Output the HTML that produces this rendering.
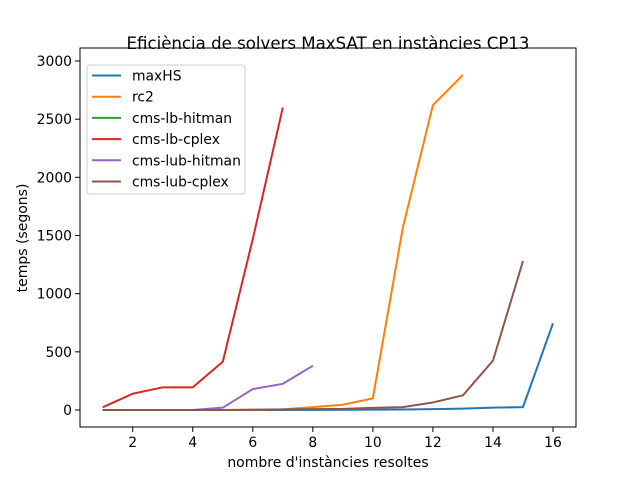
<!DOCTYPE html>
<html><head><meta charset="utf-8"><style>
body{margin:0;background:#fff;}
svg text{font-family:"DejaVu Sans","Liberation Sans",sans-serif;fill:#000;}
</style></head><body>
<svg id="chart" width="640" height="480" xmlns="http://www.w3.org/2000/svg">
<rect x="0" y="0" width="640" height="480" fill="#fff"/>
<text x="328" y="49" font-size="16.6" text-anchor="middle">Eficiència de solvers MaxSAT en instàncies CP13</text>
<g id="ticks"></g>
<g id="series"></g>
<rect x="80" y="48" width="496" height="379" fill="none" stroke="#000" stroke-width="1"/>
<text x="328" y="467" font-size="14" text-anchor="middle">nombre d'instàncies resoltes</text>
<text transform="translate(27,238) rotate(-90)" font-size="14" text-anchor="middle">temps (segons)</text>
<g id="legend"></g>
</svg>
<script>
const xTicks=[2,4,6,8,10,12,14,16];
const yTicks=[0,500,1000,1500,2000,2500,3000];
const seriesNames=["maxHS","rc2","cms-lb-hitman","cms-lb-cplex","cms-lub-hitman","cms-lub-cplex"];
const seriesColors=["#1f77b4","#ff7f0e","#2ca02c","#d62728","#9467bd","#8c564b"];
const maxHS=[0,0,0,0,0,0,0,1,2,3,4,8,12,20,25,745];
const rc2=[0,0,0,0,0,2,5,25,45,100,1570,2620,2880];
const cmsLbHitman=[];
const cmsLbCplex=[23,140,195,195,415,1470,2600];
const cmsLubHitman=[0,0,0,0,20,180,225,380];
const cmsLubCplex=[0,0,0,0,0,2,5,8,10,18,25,65,126,424,1280];
const allSeries=[maxHS,rc2,cmsLbHitman,cmsLbCplex,cmsLubHitman,cmsLubCplex];
const NS="http://www.w3.org/2000/svg";
const xs=v=>102.7+(v-1)*30.02;
const ys=v=>410-v*0.11633;
function mk(t,a,p){const e=document.createElementNS(NS,t);for(const k in a)e.setAttribute(k,a[k]);p.appendChild(e);return e;}
const tg=document.getElementById('ticks');
xTicks.forEach(v=>{
 const l=mk('line',{x1:xs(v),x2:xs(v),y1:427,y2:432,stroke:'#000'},tg);
 
 
 const t=mk('text',{x:xs(v),y:447,'font-size':'13.9','text-anchor':'middle'},tg);t.textContent=v;
 
 
});
yTicks.forEach(v=>{
 const l=mk('line',{x1:75,x2:80,y1:ys(v),y2:ys(v),stroke:'#000'},tg);
 
 
 const t=mk('text',{x:72,y:ys(v)+5,'font-size':'13.9','text-anchor':'end'},tg);t.textContent=v;
 
 
});
const sg=document.getElementById('series');
allSeries.forEach((d,i)=>{
 if(!d.length)return;
 const p=mk('polyline',{points:d.map((v,j)=>xs(j+1)+','+ys(v)).join(' '),fill:'none',stroke:seriesColors[i],'stroke-width':2},sg);
 
 
});
const lg=document.getElementById('legend');
const b=mk('rect',{x:87,y:65,width:158,height:129,rx:3,fill:'#fff','fill-opacity':0.8,stroke:'#ccc'},lg);


seriesNames.forEach((n,i)=>{
 const y=75.5+i*21.2;
 const g=mk('g',{},lg);
 
 
 mk('line',{x1:92,x2:121,y1:y,y2:y,stroke:seriesColors[i],'stroke-width':2},g);
 const t=mk('text',{x:132,y:y+5,'font-size':'13.9'},g);t.textContent=n;
});
</script>
</body></html>
